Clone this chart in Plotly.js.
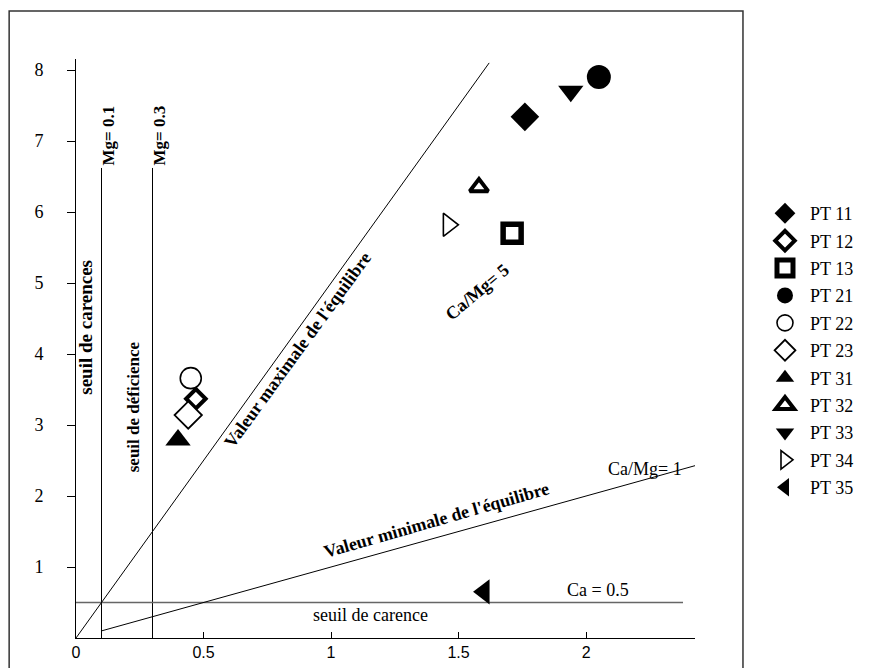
<!DOCTYPE html>
<html>
<head>
<meta charset="utf-8">
<script src="https://cdn.plot.ly/plotly-3.0.1.min.js"></script>
<style>
  html, body { margin: 0; padding: 0; background: #ffffff; }
  #chart { width: 891px; height: 668px; }
</style>
</head>
<body>
<div id="chart"></div>
<script>
// Exchangeable Mg (x) against exchangeable Ca (y) for each sampling plot
const plotNames = ['PT 11', 'PT 12', 'PT 13', 'PT 21', 'PT 22', 'PT 23', 'PT 31', 'PT 32', 'PT 33', 'PT 34', 'PT 35'];
const mgValues  = [1.76, 0.47, 1.71, 2.05, 0.45, 0.44, 0.40, 1.58, 1.94, 1.46, 1.60];
const caValues  = [7.34, 3.37, 5.70, 7.90, 3.66, 3.14, 2.79, 6.35, 7.70, 5.82, 0.65];

// Threshold and equilibrium lines
const mgThresholds = [0.1, 0.3];
const mgThresholdLabels = ['Mg= 0.1', 'Mg= 0.3'];
const mgThresholdTop = 6.62;
const caThreshold = 0.5;
const caThresholdEnd = 2.38;
const ratioMax = 5;            // Ca/Mg, upper equilibrium value
const ratioMaxMgEnd = 1.62;
const ratioMin = 1;            // Ca/Mg, lower equilibrium value
const ratioMinMgStart = 0.1;
const ratioMinMgEnd = 2.5;

// Axis ticks
const xTickVals = [0, 0.5, 1, 1.5, 2];
const xTickText = ['0', '0.5', '1', '1.5', '2'];
const yTickVals = [1, 2, 3, 4, 5, 6, 7, 8];
const yTickText = ['1', '2', '3', '4', '5', '6', '7', '8'];

// Marker style for each plot
const markerStyles = {
  'PT 11': { symbol: 'diamond',        fill: '#000', size: 22, lw: 0 },
  'PT 12': { symbol: 'diamond',        fill: '#fff', size: 15, lw: 4 },
  'PT 13': { symbol: 'square',         fill: '#fff', size: 18, lw: 5.5 },
  'PT 21': { symbol: 'circle',         fill: '#000', size: 24, lw: 0 },
  'PT 22': { symbol: 'circle',         fill: '#fff', size: 21, lw: 1.6 },
  'PT 23': { symbol: 'diamond',        fill: '#fff', size: 21, lw: 1.8 },
  'PT 31': { symbol: 'triangle-up',    fill: '#000', size: 22, lw: 0 },
  'PT 32': { symbol: 'triangle-up',    fill: '#fff', size: 16, lw: 4 },
  'PT 33': { symbol: 'triangle-down',  fill: '#000', size: 22, lw: 0 },
  'PT 34': { symbol: 'triangle-right', fill: '#fff', size: 20, lw: 1.6 },
  'PT 35': { symbol: 'triangle-left',  fill: '#000', size: 22, lw: 0 }
};

const SERIF = 'Liberation Serif';
const SANS = 'Liberation Sans';

const traces = [];

// reference lines (drawn under the markers)
const refLine = (x, y, color, width) => ({
  type: 'scatter', mode: 'lines', x: x, y: y,
  line: { color: color, width: width }, hoverinfo: 'skip', showlegend: false
});
mgThresholds.forEach(v => traces.push(refLine([v, v], [0, mgThresholdTop], '#000', 1)));
traces.push(refLine([0, caThresholdEnd], [caThreshold, caThreshold], '#666', 1.3));
traces.push(refLine([0, ratioMaxMgEnd], [0, ratioMax * ratioMaxMgEnd], '#000', 1));
traces.push(refLine([ratioMinMgStart, ratioMinMgEnd],
                    [ratioMin * ratioMinMgStart, ratioMin * ratioMinMgEnd], '#000', 1));

// one trace per plot so each gets its own legend entry
plotNames.forEach((name, i) => {
  const s = markerStyles[name];
  traces.push({
    type: 'scatter', mode: 'markers', name: name, legendgroup: name,
    x: [mgValues[i]], y: [caValues[i]],
    marker: {
      symbol: s.symbol, size: s.size, color: s.fill,
      line: { color: '#000', width: s.lw }
    }
  });
});

const maxSlopeAngle = -54;
const minSlopeAngle = -16;

const annotations = [];
mgThresholds.forEach((v, i) => {
  annotations.push({
    x: v, y: mgThresholdTop, xref: 'x', yref: 'y', showarrow: false,
    text: '<b>' + mgThresholdLabels[i] + '</b>', textangle: -90,
    xanchor: 'center', yanchor: 'bottom', xshift: 7,
    font: { family: SERIF, size: 17, color: '#000' }
  });
});
annotations.push(
  { x: mgThresholds[0], y: 4.37, xref: 'x', yref: 'y', showarrow: false,
    text: '<b>seuil de carences</b>', textangle: -90,
    xanchor: 'right', yanchor: 'middle', xshift: -3,
    font: { family: SERIF, size: 19, color: '#000' } },
  { x: mgThresholds[1], y: 3.25, xref: 'x', yref: 'y', showarrow: false,
    text: '<b>seuil de déficience</b>', textangle: -90,
    xanchor: 'right', yanchor: 'middle', xshift: -8,
    font: { family: SERIF, size: 17, color: '#000' } },
  { x: 0.83, y: ratioMax * 0.83, xref: 'x', yref: 'y', showarrow: false,
    text: "<b>Valeur maximale de l'équilibre</b>", textangle: maxSlopeAngle,
    xanchor: 'center', yanchor: 'middle', xshift: 10, yshift: -7,
    font: { family: SERIF, size: 18, color: '#000' } },
  { x: 1.43, y: ratioMin * 1.43, xref: 'x', yref: 'y', showarrow: false,
    text: "<b>Valeur minimale de l'équilibre</b>", textangle: minSlopeAngle,
    xanchor: 'center', yanchor: 'middle', xshift: -4, yshift: 16,
    font: { family: SERIF, size: 18, color: '#000' } },
  { x: 1.573, y: 4.87, xref: 'x', yref: 'y', showarrow: false,
    text: '<b>Ca/Mg= 5</b>', textangle: -40,
    xanchor: 'center', yanchor: 'middle',
    font: { family: SERIF, size: 18, color: '#000' } },
  { x: 2.23, y: ratioMin * 2.23, xref: 'x', yref: 'y', showarrow: false,
    text: 'Ca/Mg= 1', xanchor: 'center', yanchor: 'middle', yshift: 11,
    font: { family: SERIF, size: 18, color: '#000' } },
  { x: 2.047, y: caThreshold, xref: 'x', yref: 'y', showarrow: false,
    text: 'Ca = 0.5', xanchor: 'center', yanchor: 'middle', yshift: 13,
    font: { family: SERIF, size: 18, color: '#000' } },
  { x: 1.153, y: caThreshold, xref: 'x', yref: 'y', showarrow: false,
    text: 'seuil de carence', xanchor: 'center', yanchor: 'middle', yshift: -12,
    font: { family: SERIF, size: 18, color: '#000' } }
);

const layout = {
  width: 891, height: 668, autosize: false,
  margin: { l: 76, r: 196, t: 59, b: 30, pad: 0 },
  paper_bgcolor: '#fff', plot_bgcolor: '#fff',
  showlegend: true,
  font: { family: SERIF, color: '#000' },
  xaxis: {
    range: [0, 2.427], showgrid: false, zeroline: false,
    showline: true, linecolor: '#000', linewidth: 1,
    ticks: 'inside', ticklen: 6, tickcolor: '#000', tickwidth: 1,
    tickvals: xTickVals, ticktext: xTickText, ticklabelstandoff: 0,
    tickfont: { family: SANS, size: 16, color: '#000' }
  },
  yaxis: {
    range: [0, 8.155], showgrid: false, zeroline: false,
    showline: true, linecolor: '#000', linewidth: 1,
    ticks: 'outside', ticklen: 8, tickcolor: '#000', tickwidth: 1,
    tickvals: yTickVals, ticktext: yTickText, ticklabelstandoff: 20,
    tickfont: { family: SERIF, size: 18, color: '#000' }
  },
  legend: {
    x: 1.105, xanchor: 'left', y: 0.765, yanchor: 'top',
    bgcolor: 'rgba(0,0,0,0)', borderwidth: 0,
    tracegroupgap: 1, itemwidth: 40,
    font: { family: SERIF, size: 18, color: '#000' }
  },
  shapes: [{
    type: 'rect', xref: 'paper', yref: 'paper',
    x0: -0.108, x1: 1.0775, y0: -0.06, y1: 1.083,
    line: { color: '#333', width: 1.5 }, fillcolor: 'rgba(0,0,0,0)'
  }],
  annotations: annotations
};

Plotly.newPlot('chart', traces, layout, { displayModeBar: false, staticPlot: true });
</script>
</body>
</html>
